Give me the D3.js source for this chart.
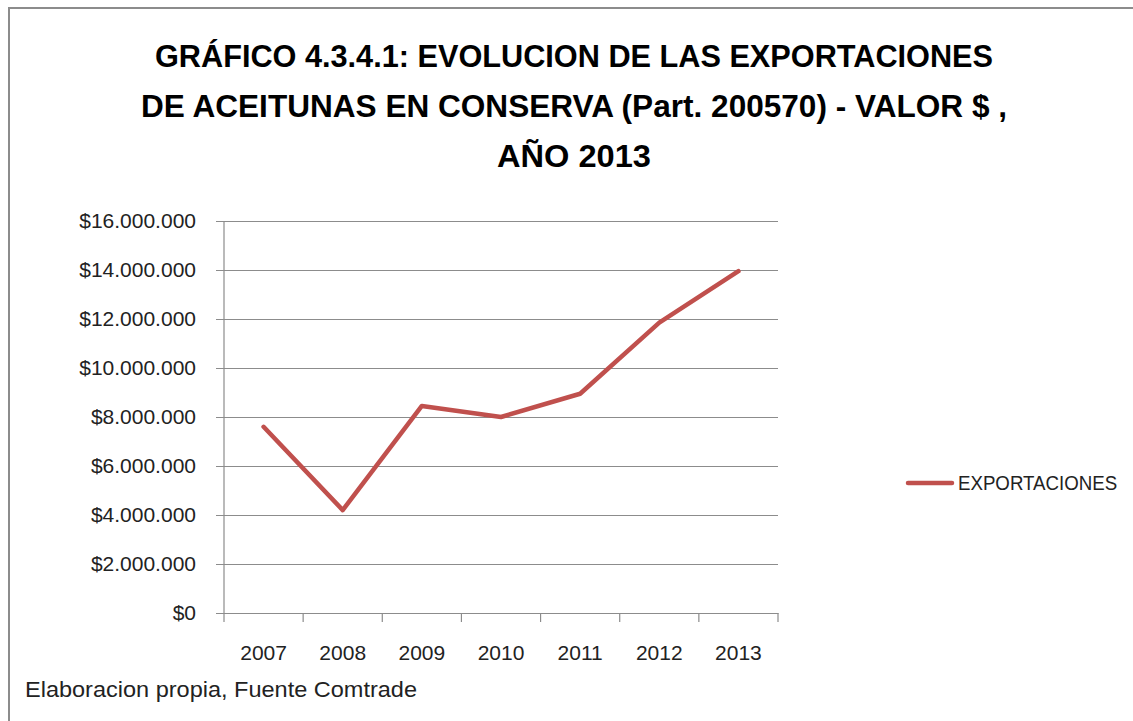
<!DOCTYPE html>
<html>
<head>
<meta charset="utf-8">
<script src="https://cdn.jsdelivr.net/npm/d3@7"></script>
<style>
    body { margin: 0; background: #fff; }
    #chart { width: 1133px; height: 721px; }
    text { font-family: "Liberation Sans", Arial, sans-serif; fill: #222; }
</style>
</head>
<body>
<div id="chart"></div>
<script>
// Chart data
const years = ["2007", "2008", "2009", "2010", "2011", "2012", "2013"];
const exportValues = [7600000, 4200000, 8450000, 8000000, 8950000, 11850000, 13950000];
const yTicks = [0, 2000000, 4000000, 6000000, 8000000, 10000000, 12000000, 14000000, 16000000];
const titleLines = [
    "GRÁFICO 4.3.4.1: EVOLUCION DE LAS EXPORTACIONES",
    "DE ACEITUNAS EN CONSERVA (Part. 200570) - VALOR $ ,",
    "AÑO 2013"
];
const seriesName = "EXPORTACIONES";
const sourceNote = "Elaboracion propia, Fuente Comtrade";

const width = 1133;
const height = 721;
const plot = { left: 224, right: 778, top: 221, bottom: 613 };
const lineColor = "#c0504d";
const gridColor = "#8c8c8c";

const svg = d3.select("#chart")
    .append("svg")
    .attr("width", width)
    .attr("height", height);

// Outer frame (only top and left edges are visible in the original)
svg.append("path")
    .attr("d", `M9,${height} L9,8 L${width},8`)
    .attr("fill", "none")
    .attr("stroke", gridColor)
    .attr("stroke-width", 2);

// Title
const titleWidths = [838, 866, 154];
svg.selectAll(".title")
    .data(titleLines)
    .join("text")
    .attr("class", "title")
    .attr("x", 574)
    .attr("y", (d, i) => 67 + i * 50)
    .attr("text-anchor", "middle")
    .attr("textLength", (d, i) => titleWidths[i])
    .attr("lengthAdjust", "spacingAndGlyphs")
    .style("font-size", "32px")
    .style("font-weight", "bold")
    .style("fill", "#000")
    .text(d => d);

// Scales
const x = d3.scaleBand()
    .domain(years)
    .range([plot.left, plot.right]);

const y = d3.scaleLinear()
    .domain([0, 16000000])
    .range([plot.bottom, plot.top]);

const moneyFormat = v => "$" + d3.format(",")(v).replace(/,/g, ".");

// Gridlines + y axis
const yAxis = svg.append("g")
    .attr("transform", `translate(${plot.left},0)`)
    .call(d3.axisLeft(y)
        .tickValues(yTicks)
        .tickSize(-(plot.right - plot.left))
        .tickPadding(28)
        .tickFormat(moneyFormat));
yAxis.select(".domain").remove();
yAxis.selectAll(".tick line")
    .attr("x1", -8)
    .attr("stroke", gridColor)
    .attr("stroke-width", 1.2);
yAxis.selectAll(".tick text")
    .style("font-size", "21px")
    .style("font-family", "'Liberation Sans', Arial, sans-serif")
    .attr("fill", "#222");

// Vertical axis line
svg.append("line")
    .attr("x1", plot.left).attr("x2", plot.left)
    .attr("y1", plot.top).attr("y2", plot.bottom)
    .attr("stroke", gridColor)
    .attr("stroke-width", 1.2);

// X axis with ticks between categories
const xAxis = svg.append("g")
    .attr("transform", `translate(0,${plot.bottom})`)
    .call(d3.axisBottom(x).tickSize(0).tickPadding(32));
xAxis.select(".domain")
    .attr("stroke", gridColor)
    .attr("stroke-width", 1.2);
xAxis.selectAll(".tick text")
    .style("font-size", "21px")
    .style("font-family", "'Liberation Sans', Arial, sans-serif")
    .attr("fill", "#222");
xAxis.selectAll(".sep")
    .data(years.map(d => x(d)).concat([plot.right]))
    .join("line")
    .attr("class", "sep")
    .attr("x1", d => d).attr("x2", d => d)
    .attr("y1", 0).attr("y2", 9)
    .attr("stroke", gridColor)
    .attr("stroke-width", 1.2);

// Series line
const line = d3.line()
    .x((d, i) => x(years[i]) + x.bandwidth() / 2)
    .y(d => y(d));

svg.append("path")
    .datum(exportValues)
    .attr("d", line)
    .attr("fill", "none")
    .attr("stroke", lineColor)
    .attr("stroke-width", 4.5)
    .attr("stroke-linejoin", "round")
    .attr("stroke-linecap", "round");

// Legend (text squeezed horizontally to mimic the narrower original font)
svg.append("line")
    .attr("x1", 908).attr("x2", 952)
    .attr("y1", 483).attr("y2", 483)
    .attr("stroke", lineColor)
    .attr("stroke-width", 4.5)
    .attr("stroke-linecap", "round");
svg.append("g")
    .attr("transform", "translate(958,490) scale(0.89,1)")
    .append("text")
    .style("font-size", "21px")
    .text(seriesName);

// Source note
svg.append("text")
    .attr("x", 25)
    .attr("y", 697)
    .attr("textLength", 392)
    .attr("lengthAdjust", "spacingAndGlyphs")
    .style("font-size", "22px")
    .text(sourceNote);
</script>
</body>
</html>
